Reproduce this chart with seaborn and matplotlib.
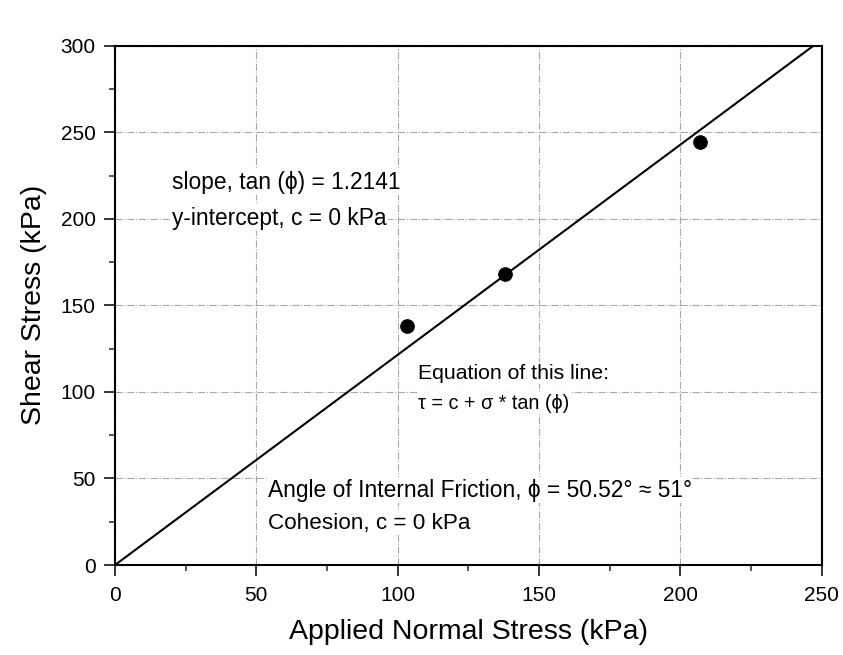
import numpy as np
import pandas as pd
import matplotlib
matplotlib.use("Agg")
import matplotlib.pyplot as plt
import seaborn as sns
from matplotlib.ticker import MultipleLocator

# ---- data ----
normal_stress = [103.4, 137.9, 206.8]   # kPa
shear_stress = [137.9, 168.0, 244.2]    # kPa
slope = 1.2141                          # tan(phi)
intercept = 0.0                         # c
line_x = [0, 250]
x_ticks = [0, 50, 100, 150, 200, 250]
y_ticks = [0, 50, 100, 150, 200, 250, 300]

sns.set_theme(style="white")
plt.rcParams['font.family'] = ['Liberation Sans', 'DejaVu Sans']

fig = plt.figure(figsize=(8.43, 6.55), dpi=100)
ax = fig.add_axes([0.1364, 0.1374, 0.8383, 0.7928])

pts = pd.DataFrame({"x": normal_stress, "y": shear_stress})
line = pd.DataFrame({"x": line_x, "y": [intercept + slope * v for v in line_x]})

sns.lineplot(data=line, x="x", y="y", ax=ax, color="black", linewidth=1.5, zorder=3)
sns.scatterplot(data=pts, x="x", y="y", ax=ax, color="black", s=95, edgecolor="black", zorder=4)

ax.set_xlim(0, 250)
ax.set_ylim(0, 300)
ax.set_xticks(x_ticks)
ax.set_yticks(y_ticks)
ax.xaxis.set_minor_locator(MultipleLocator(25))
ax.yaxis.set_minor_locator(MultipleLocator(25))
ax.tick_params(axis="both", which="major", direction="out", length=8, width=1.1,
               labelsize=15, colors="black", bottom=True, left=True, top=False, right=False)
ax.tick_params(axis="x", which="major", pad=7)
ax.tick_params(axis="y", which="major", pad=6)
ax.tick_params(axis="both", which="minor", direction="out", length=4, width=1.1,
               bottom=True, left=True, top=False, right=False)
ax.grid(True, which="major", color="#a8a8a8", linestyle="-.", linewidth=0.8)
ax.set_axisbelow(True)
for sp in ax.spines.values():
    sp.set_color("black")
    sp.set_linewidth(1.5)

ax.set_xlabel("Applied Normal Stress (kPa)", fontsize=20.5, color="black", labelpad=10)
ax.set_ylabel("Shear Stress (kPa)", fontsize=20.5, color="black", labelpad=10)

bbox = dict(facecolor="white", edgecolor="none", pad=1)
fam = ['Liberation Sans', 'DejaVu Sans']

def txt(px, py, s, size):
    # px, py in pixel coordinates from top-left; convert to data
    xd = (px - 115) / (821.7 - 115) * 250
    yd = (565 - py) / (565 - 45.7) * 300
    ax.text(xd, yd, s, fontsize=size, va="center", ha="left", color="black",
            bbox=bbox, family=fam, zorder=5)

txt(172, 182, "slope, tan (ϕ) = 1.2141", 16.4)
txt(172, 218, "y-intercept, c = 0 kPa", 16.4)
txt(418, 373, "Equation of this line:", 15.3)
txt(418, 403, "τ = c + σ * tan (ϕ)", 14.2)
txt(268, 490, "Angle of Internal Friction, ϕ = 50.52° ≈ 51°", 16.4)
txt(268, 523, "Cohesion, c = 0 kPa", 16.2)

fig.savefig("out.png", dpi=100, facecolor="white")
